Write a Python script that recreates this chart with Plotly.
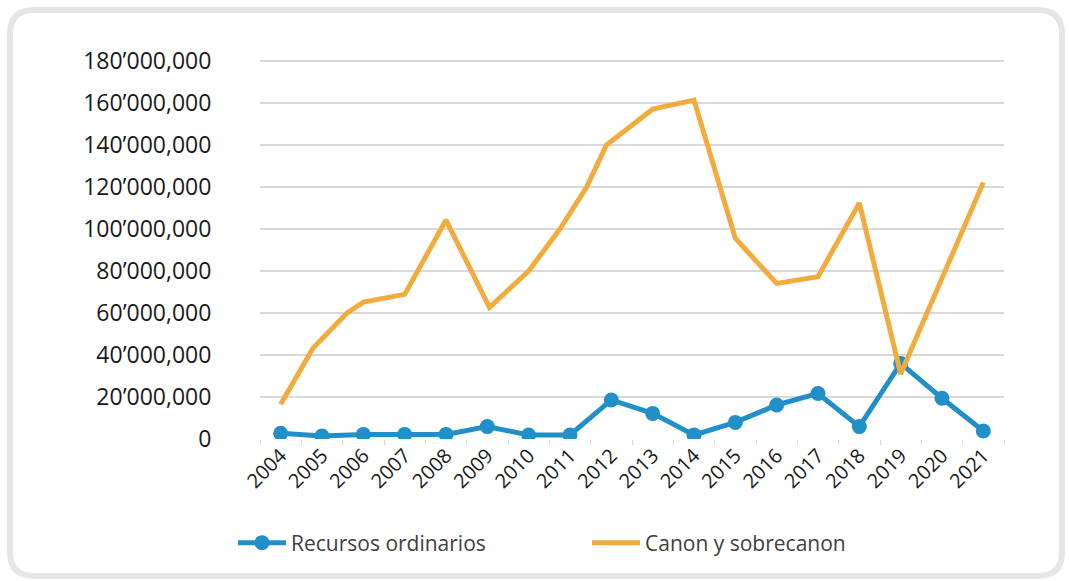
import plotly.graph_objects as go

# ---- data -------------------------------------------------------------
years = list(range(2004, 2022))

recursos_ordinarios = [
    2_700_000, 1_400_000, 2_200_000, 2_200_000, 2_200_000, 5_900_000,
    1_900_000, 1_900_000, 18_600_000, 12_200_000, 1_900_000, 7_900_000,
    16_200_000, 21_700_000, 5_900_000, 36_000_000, 19_400_000, 3_800_000,
]

canon_x = [
    2004, 2004.78, 2005.6, 2006, 2007, 2008, 2009.05, 2010, 2010.75,
    2011.4, 2011.88, 2013, 2014, 2015, 2016, 2017, 2018, 2019, 2021,
]
canon_sobrecanon = [
    16_500_000, 43_200_000, 59_900_000, 65_200_000, 68_900_000, 104_300_000,
    62_700_000, 80_000_000, 99_900_000, 119_900_000, 140_000_000,
    157_100_000, 161_400_000, 95_600_000, 74_100_000, 77_300_000,
    112_400_000, 31_000_000, 122_200_000,
]

y_tickvals = [0, 20e6, 40e6, 60e6, 80e6, 100e6, 120e6, 140e6, 160e6, 180e6]
y_ticktext = ["0", "20’000,000", "40’000,000", "60’000,000", "80’000,000",
              "100’000,000", "120’000,000", "140’000,000", "160’000,000",
              "180’000,000"]
x_ticktext = [str(y) for y in years]

BLUE = "#2190c8"
ORANGE = "#f2ac3e"

W, H = 1069, 581
L, R, T, B = 260, 65, 59, 142
PW, PH = W - L - R, H - T - B


def px(xp):
    return (xp - L) / PW


def py(yp):
    return (H - B - yp) / PH


def rounded_rect(x0, y0, x1, y1, r):
    return (
        f"M {px(x0 + r)},{py(y0)} L {px(x1 - r)},{py(y0)} "
        f"Q {px(x1)},{py(y0)} {px(x1)},{py(y0 + r)} "
        f"L {px(x1)},{py(y1 - r)} Q {px(x1)},{py(y1)} {px(x1 - r)},{py(y1)} "
        f"L {px(x0 + r)},{py(y1)} Q {px(x0)},{py(y1)} {px(x0)},{py(y1 - r)} "
        f"L {px(x0)},{py(y0 + r)} Q {px(x0)},{py(y0)} {px(x0 + r)},{py(y0)} Z"
    )


fig = go.Figure()

fig.add_trace(go.Scatter(
    x=years, y=recursos_ordinarios, name="Recursos ordinarios",
    mode="lines+markers",
    line=dict(color=BLUE, width=5),
    marker=dict(color=BLUE, size=15),
))

fig.add_trace(go.Scatter(
    x=canon_x, y=canon_sobrecanon, name="Canon y sobrecanon",
    mode="lines",
    line=dict(color=ORANGE, width=5),
))

fig.update_layout(
    width=W, height=H, autosize=False,
    margin=dict(l=L, r=R, t=T, b=B),
    paper_bgcolor="white", plot_bgcolor="white",
    font=dict(family="Open Sans", color="#1a1a1a"),
    showlegend=True,
    legend=dict(
        orientation="h", x=px(233), xanchor="left", y=py(543), yanchor="middle",
        font=dict(size=21, color="#404040", family="Open Sans"),
        itemwidth=48,
        entrywidth=291, entrywidthmode="pixels",
        bgcolor="rgba(0,0,0,0)",
    ),
    shapes=[dict(
        type="path", xref="paper", yref="paper", layer="below",
        path=rounded_rect(10, 10, 1062, 576, 24),
        line=dict(color="#e6e6e6", width=6),
        fillcolor="rgba(0,0,0,0)",
    )],
)

fig.update_xaxes(
    range=[2003.5, 2021.5],
    tickvals=years, ticktext=x_ticktext, tickangle=-45,
    tickfont=dict(size=20, color="#1a1a1a"),
    showgrid=False, zeroline=False, showline=False,
    ticks="",
    minor=dict(tickvals=[y + 0.5 for y in range(2003, 2022)], ticks="outside",
               ticklen=5, tickcolor="#d9d9d9", tickwidth=1),
)

fig.update_yaxes(
    range=[0, 181e6],
    tickvals=y_tickvals, ticktext=y_ticktext,
    tickfont=dict(size=23, color="#1a1a1a"),
    showgrid=True, gridcolor="#d9d9d9", gridwidth=2,
    zeroline=False, showline=False,
    ticks="outside", ticklen=43, tickcolor="rgba(0,0,0,0)",
)

fig.write_html("out.html")
